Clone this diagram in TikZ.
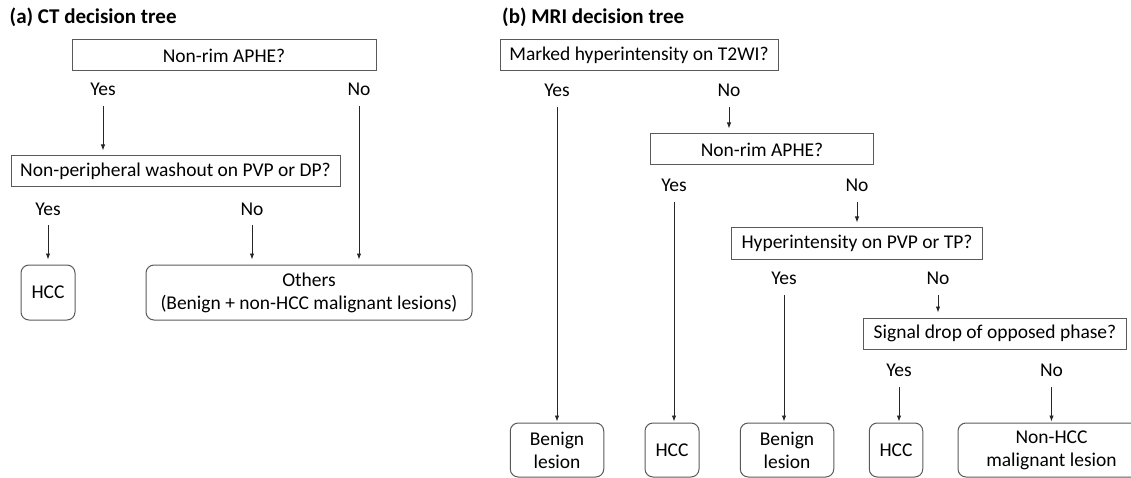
\documentclass[tikz,border=0pt]{standalone}
\usepackage{fontspec}
\setmainfont{Carlito}
\usepackage{tikz}
\usetikzlibrary{arrows.meta, positioning}
\usepackage{xcolor}
\definecolor{boxgray}{HTML}{5A5A5A}
\tikzset{%
	question/.style={
		draw=boxgray,
		line width=1pt,
		minimum height=31pt,
		inner sep=0pt
	},
	leaf/.style={
		draw=boxgray,
		line width=1pt,
		rounded corners=8pt,
		align=center,
		minimum height=54pt,
		inner sep=0pt
	},
	answer/.style={
		inner sep=0pt,
		text height=12pt,
		text depth=4pt
	},
}

\begin{document}
\begin{tikzpicture}[
			x=1pt, y=-1pt,
			font=\fontsize{19.5}{23}\selectfont,
			title/.style={anchor=west, inner sep=0pt, font=\fontsize{21}{24}\selectfont\bfseries},
			link/.style={draw=black!85, line width=0.9pt, -{Latex[length=6pt,width=4.5pt]}, shorten <=6pt, shorten >=5pt}
			]
			\useasboundingbox (0,0) rectangle (1131,478);
			
			% (a) CT decision tree
			\node[title] (titleA) at (9.5,17.5) {(a) CT decision tree};
			\node[question, minimum width=304pt] (ctA) at (224,55.5) {Non-rim APHE?};
			\node[answer] (ctAyes) at (103,92) {Yes};
			\node[answer] (ctAno) at (359,92) {No};
			\node[question, minimum width=329pt] (ctB) at (175.5,171.5) {Non-peripheral washout on PVP or DP?};
			\node[answer] (ctByes) at (48,211) {Yes};
			\node[answer] (ctBno) at (252,211) {No};
			\node[leaf, minimum width=54pt, minimum height=55pt] (ctHCC) at (48,292.5) {HCC};
			\node[leaf, minimum width=326pt, minimum height=55pt] (ctOthers) at (309,292.5) {Others\\(Benign + non-HCC malignant lesions)};
			
			\draw[link] (ctAyes.south) -- (ctAyes.south |- ctB.north);
			\draw[link] (ctAno.south) -- (ctAno.south |- ctOthers.north);
			\draw[link] (ctByes.south) -- (ctByes.south |- ctHCC.north);
			\draw[link] (ctBno.south) -- (ctBno.south |- ctOthers.north);
			
			% (b) MRI decision tree
			\node[title] (titleB) at (502,17.5) {(b) MRI decision tree};
			\node[question, minimum width=278pt] (mrA) at (639,55.5) {Marked hyperintensity on T2WI?};
			\node[answer] (mrAyes) at (557,92.7) {Yes};
			\node[answer] (mrAno) at (729,92.7) {No};
			\node[question, minimum width=223pt] (mrB) at (762,149.5) {Non-rim APHE?};
			\node[answer] (mrByes) at (674,188) {Yes};
			\node[answer] (mrBno) at (857,188) {No};
			\node[question, minimum width=251pt] (mrC) at (857,243.5) {Hyperintensity on PVP or TP?};
			\node[answer] (mrCyes) at (784,280.7) {Yes};
			\node[answer] (mrCno) at (938,280.7) {No};
			\node[question, minimum width=263pt] (mrD) at (995,333.5) {Signal drop of opposed phase?};
			\node[answer] (mrDyes) at (899,372.7) {Yes};
			\node[answer] (mrDno) at (1051.5,372.7) {No};
			
			% leaves
			\node[leaf, minimum width=93.5pt] (mrBenignA) at (557,450) {Benign\\lesion};
			\node[leaf, minimum width=54pt] (mrHccA) at (672,450) {HCC};
			\node[leaf, minimum width=93.5pt] (mrBenignB) at (787,450) {Benign\\lesion};
			\node[leaf, minimum width=53.5pt] (mrHccB) at (896,450) {HCC};
			\node[leaf, minimum width=187pt] (mrNonHcc) at (1051.5,450) {Non-HCC\\malignant lesion};
			
			\draw[link] (mrAno.south) -- (mrAno.south |- mrB.north);
			\draw[link] (mrBno.south) -- (mrBno.south |- mrC.north);
			\draw[link] (mrCno.south) -- (mrCno.south |- mrD.north);
			\draw[link, shorten >=1pt] (mrAyes.south) -- (mrAyes.south |- mrBenignA.north);
			\draw[link, shorten >=1pt] (mrByes.south) -- (mrByes.south |- mrHccA.north);
			\draw[link, shorten >=1pt] (mrCyes.south) -- (mrCyes.south |- mrBenignB.north);
			\draw[link, shorten >=1pt] (mrDyes.south) -- (mrDyes.south |- mrHccB.north);
			\draw[link, shorten >=1pt] (mrDno.south) -- (mrDno.south |- mrNonHcc.north);
			
		\end{tikzpicture}
\end{document}
